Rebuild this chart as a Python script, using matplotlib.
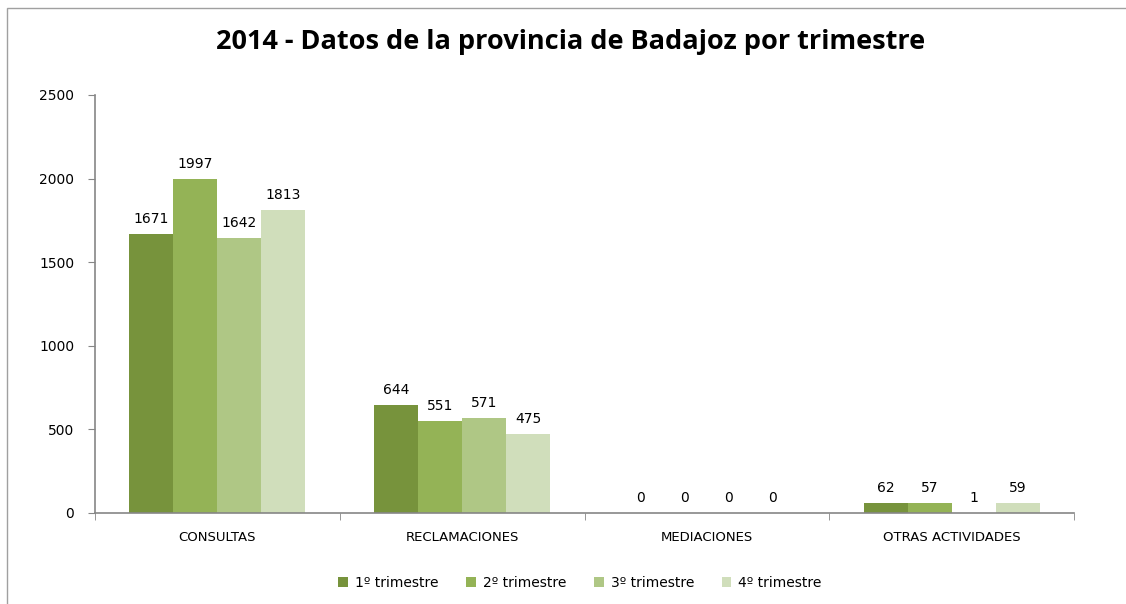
import matplotlib
matplotlib.use("Agg")
import matplotlib.pyplot as plt
import numpy as np
from matplotlib.patches import Rectangle

categories = ["CONSULTAS", "RECLAMACIONES", "MEDIACIONES", "OTRAS ACTIVIDADES"]
series_names = ["1º trimestre", "2º trimestre", "3º trimestre", "4º trimestre"]
t1 = [1671, 644, 0, 62]
t2 = [1997, 551, 0, 57]
t3 = [1642, 571, 0, 1]
t4 = [1813, 475, 0, 59]
series = [t1, t2, t3, t4]
colors = ["#77933C", "#94B356", "#AFC785", "#D0DEBB"]
yticks = [0, 500, 1000, 1500, 2000, 2500]
title = "2014 - Datos de la provincia de Badajoz por trimestre"

fig = plt.figure(figsize=(11.26, 6.04), dpi=100)
fig.patches.append(Rectangle((7/1126, -0.1), 1.2, (604-8)/604 + 0.1, transform=fig.transFigure,
                             fill=False, edgecolor="#A0A0A0", linewidth=1.0))
ax = fig.add_axes([95/1126, 1-513/604, (1074-95)/1126, (513-95)/604])

x = np.arange(len(categories))
bw = 0.18
for i, (vals, c, name) in enumerate(zip(series, colors, series_names)):
    pos = x + (i - 1.5) * bw
    ax.bar(pos, vals, width=bw, color=c, label=name)
    for p, v in zip(pos, vals):
        ax.annotate(str(v), (p, v), xytext=(0, 15), textcoords="offset pixels",
                    ha="center", va="center", fontsize=10, color="#000000")

ax.set_xlim(-0.5, len(categories) - 0.5)
ax.set_ylim(0, 2500)
ax.set_yticks(yticks)
ax.set_yticklabels([str(t) for t in yticks], fontsize=10)
ax.set_xticks(x)
ax.set_xticklabels(categories, fontsize=9.5)
ax.tick_params(axis="x", length=0, pad=13)
ax.set_xticks(np.arange(-0.5, len(categories)), minor=True)
ax.tick_params(axis="x", which="minor", length=5, color="#868686", direction="out")
ax.tick_params(axis="y", length=5, color="#868686", direction="out", pad=10)
for s in ["top", "right"]:
    ax.spines[s].set_visible(False)
for s in ["left", "bottom"]:
    ax.spines[s].set_color("#868686")
    ax.spines[s].set_linewidth(1.2)

fig.text(0.507, 1 - 42/604, title, ha="center", va="center", fontsize=19.5, fontweight="bold",
         family="Open Sans")

fig.legend(loc="center", bbox_to_anchor=(0.515, 1 - 583/604), ncol=4, frameon=False,
           fontsize=10, handlelength=0.7, handleheight=0.7, handletextpad=0.5, columnspacing=2.0)

fig.savefig("out.png", dpi=100)
